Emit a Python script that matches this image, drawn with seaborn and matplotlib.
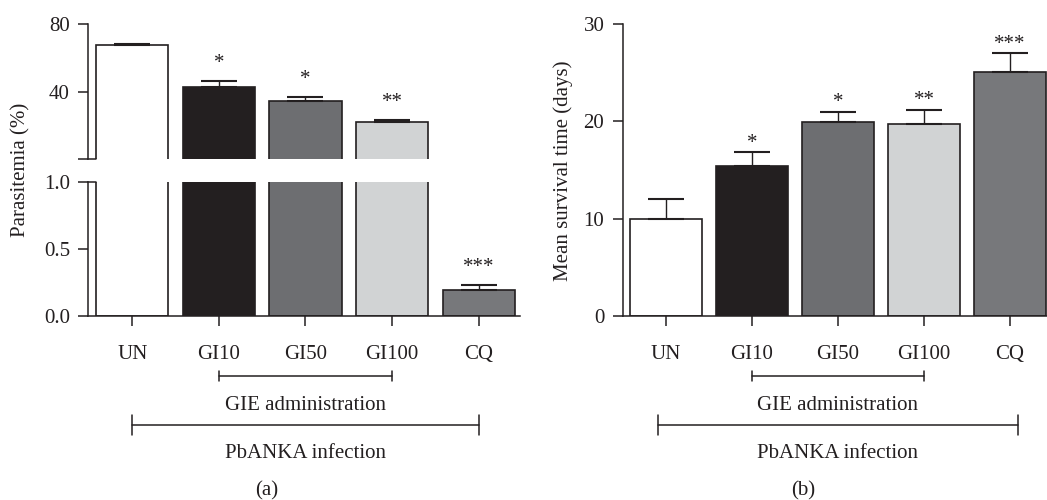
import numpy as np
import pandas as pd
import matplotlib
matplotlib.use("Agg")
import matplotlib.pyplot as plt
import matplotlib.transforms as mtransforms
import seaborn as sns

# ---------------- data ----------------
groups = ["UN", "GI10", "GI50", "GI100", "CQ"]
bar_colors = ["#ffffff", "#231f20", "#6d6e71", "#d1d3d4", "#77787b"]

parasitemia = [67.5, 43.0, 34.7, 22.4, 0.19]
parasitemia_err = [1.0, 3.5, 2.3, 1.0, 0.04]
parasitemia_sig = ["", "*", "*", "**", "***"]

survival = [10.0, 15.4, 19.9, 19.7, 25.1]
survival_err = [2.0, 1.45, 1.1, 1.5, 1.9]
survival_sig = ["", "*", "*", "**", "***"]

gie_label = "GIE administration"
infection_label = "PbANKA infection"

# ---------------- style ----------------
sns.set_style("ticks")
dark = "#231f20"
plt.rcParams["font.family"] = ["Liberation Serif", "DejaVu Serif"]
plt.rcParams["font.size"] = 15
plt.rcParams["text.color"] = dark
plt.rcParams["axes.edgecolor"] = dark
plt.rcParams["axes.linewidth"] = 1.1
plt.rcParams["xtick.color"] = dark
plt.rcParams["ytick.color"] = dark
plt.rcParams["xtick.labelcolor"] = dark
plt.rcParams["ytick.labelcolor"] = dark

W, H = 1047, 500
fig = plt.figure(figsize=(W / 100, H / 100), dpi=100)

def fx(px):
    return px / W

def fy(py):
    return 1 - py / H

bar_w = 0.835
tick_len = 7.2
top_low = 0.8  # lower limit of the upper (broken) segment

ax_top = fig.add_axes([fx(88.3), fy(159), fx(520 - 88.3), (159 - 24) / H])
ax_bot = fig.add_axes([fx(88.3), fy(316), fx(520 - 88.3), (316 - 181.7) / H])
ax_b = fig.add_axes([fx(622.7), fy(316), fx(W - 622.7), (316 - 24) / H])

df_a = pd.DataFrame({"group": groups, "value": parasitemia, "err": parasitemia_err})
df_b = pd.DataFrame({"group": groups, "value": survival, "err": survival_err})

def draw_bars(ax, df, ymin=None):
    sns.barplot(data=df, x="group", y="value", hue="group", palette=bar_colors,
                legend=False, width=bar_w, edgecolor=dark, linewidth=1.2,
                errorbar=None, saturation=1, ax=ax)
    x = np.arange(len(df))
    sel = np.ones(len(df), dtype=bool) if ymin is None else (df["value"].to_numpy() > ymin)
    ax.errorbar(x[sel], df["value"].to_numpy()[sel],
                yerr=[np.zeros(sel.sum()), df["err"].to_numpy()[sel]], fmt="none",
                ecolor=dark, elinewidth=1.0, capsize=13, capthick=1.5, zorder=3)

xl_a = (-0.508, 4.477)
xl_b = (-0.503, 4.43)

draw_bars(ax_top, df_a, ymin=top_low)
draw_bars(ax_bot, df_a)
for ax in (ax_top, ax_bot):
    ax.set_xlim(*xl_a)
    ax.set_xlabel("")
    ax.set_ylabel("")
    for s in ("top", "right"):
        ax.spines[s].set_visible(False)

# upper segment
ax_top.set_ylim(top_low, 80)
ax_top.spines["bottom"].set_visible(False)
ax_top.set_yticks([top_low, 40, 80])
ax_top.set_yticklabels(["", "40", "80"])
ax_top.tick_params(axis="x", bottom=False, labelbottom=False)
ax_top.tick_params(axis="y", length=tick_len, width=1.1, pad=6)
ax_top.plot([xl_a[0], -bar_w / 2], [top_low, top_low], color=dark, lw=1.1, clip_on=False)

# lower segment
ax_bot.set_ylim(0, 1.0)
ax_bot.set_yticks([0, 0.5, 1.0])
ax_bot.set_yticklabels(["0.0", "0.5", "1.0"])
ax_bot.tick_params(axis="y", length=tick_len, width=1.1, pad=6)
ax_bot.tick_params(axis="x", length=tick_len, width=1.1, pad=14)
ax_bot.plot([xl_a[0], -bar_w / 2], [1.0, 1.0], color=dark, lw=1.1, clip_on=False)

# panel b
draw_bars(ax_b, df_b)
ax_b.set_xlim(*xl_b)
ax_b.set_ylim(0, 30)
ax_b.set_yticks([0, 10, 20, 30])
ax_b.set_xlabel("")
ax_b.set_ylabel("")
for s in ("top", "right"):
    ax_b.spines[s].set_visible(False)
ax_b.tick_params(axis="y", length=tick_len, width=1.1, pad=6)
ax_b.tick_params(axis="x", length=tick_len, width=1.1, pad=14)

# significance marks
for i, s in enumerate(parasitemia_sig):
    if not s:
        continue
    top = parasitemia[i] + parasitemia_err[i]
    ax = ax_bot if top < 1.0 else ax_top
    ax.annotate(s, (i, top), xytext=(0, 9.5), textcoords="offset points",
                ha="center", va="baseline", fontsize=15, color=dark)
for i, s in enumerate(survival_sig):
    if not s:
        continue
    top = survival[i] + survival_err[i]
    ax_b.annotate(s, (i, top), xytext=(0, 3), textcoords="offset points",
                  ha="center", va="baseline", fontsize=15, color=dark)

# y labels
fig.text(fx(21), fy(170), "Parasitemia (%)", rotation=90, ha="center", va="center")
fig.text(fx(563), fy(171), "Mean survival time (days)", rotation=90, ha="center", va="center")

# brackets
def bracket(ax, x0, x1, ypx, half_px, label, label_base_px):
    tr = mtransforms.blended_transform_factory(ax.transData, fig.transFigure)
    y = fy(ypx)
    d = half_px / H
    ax.plot([x0, x1], [y, y], color=dark, lw=1.1, transform=tr, clip_on=False)
    ax.plot([x0, x0], [y - d, y + d], color=dark, lw=1.1, transform=tr, clip_on=False)
    ax.plot([x1, x1], [y - d, y + d], color=dark, lw=1.1, transform=tr, clip_on=False)
    ax.text((x0 + x1) / 2, fy(label_base_px), label, transform=tr, ha="center",
            va="baseline", fontsize=15, color=dark)

gi_first, gi_last = groups.index("GI10"), groups.index("GI100")
bracket(ax_bot, gi_first, gi_last, 376, 5, gie_label, 409.5)
bracket(ax_bot, 0, len(groups) - 1, 425, 10, infection_label, 458)
bracket(ax_b, gi_first, gi_last, 376, 5, gie_label, 409.5)
bracket(ax_b, -0.095, len(groups) - 1 + 0.095, 425, 10, infection_label, 458)

fig.text(fx(267), fy(495), "(a)", ha="center", va="baseline", fontsize=15)
fig.text(fx(803), fy(495), "(b)", ha="center", va="baseline", fontsize=15)

fig.savefig("out.png", dpi=100, facecolor="white")
